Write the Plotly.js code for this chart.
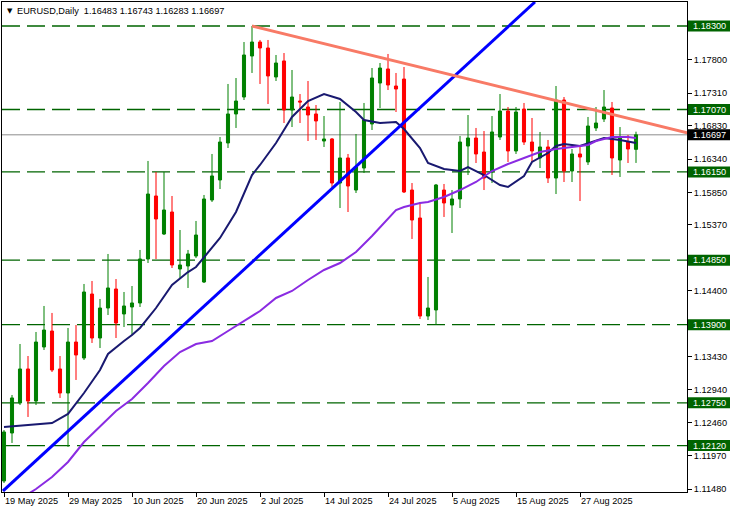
<!DOCTYPE html>
<html><head><meta charset="utf-8">
<script src="https://cdn.plot.ly/plotly-3.0.1.min.js"></script>
<style>html,body{margin:0;padding:0;background:#fff;overflow:hidden}#chart{width:733px;height:513px}</style>
</head><body><div id="chart"></div>
<script>
// ---- data ----
const dates = [
 '2025-05-19','2025-05-20','2025-05-21','2025-05-22','2025-05-23','2025-05-26','2025-05-27','2025-05-28','2025-05-29','2025-05-30',
 '2025-06-02','2025-06-03','2025-06-04','2025-06-05','2025-06-06','2025-06-09','2025-06-10','2025-06-11','2025-06-12','2025-06-13',
 '2025-06-16','2025-06-17','2025-06-18','2025-06-19','2025-06-20','2025-06-23','2025-06-24','2025-06-25','2025-06-26','2025-06-27',
 '2025-06-30','2025-07-01','2025-07-02','2025-07-03','2025-07-04','2025-07-07','2025-07-08','2025-07-09','2025-07-10','2025-07-11',
 '2025-07-14','2025-07-15','2025-07-16','2025-07-17','2025-07-18','2025-07-21','2025-07-22','2025-07-23','2025-07-24','2025-07-25',
 '2025-07-28','2025-07-29','2025-07-30','2025-07-31','2025-08-01','2025-08-04','2025-08-05','2025-08-06','2025-08-07','2025-08-08',
 '2025-08-11','2025-08-12','2025-08-13','2025-08-14','2025-08-15','2025-08-18','2025-08-19','2025-08-20','2025-08-21','2025-08-22',
 '2025-08-25','2025-08-26','2025-08-27','2025-08-28','2025-08-29','2025-09-01','2025-09-02','2025-09-03','2025-09-04','2025-09-05'
];
const open = [
 1.11598,1.12305,1.12747,1.13248,1.12776,1.13572,1.13807,1.13248,1.12894,1.13645,
 1.13410,1.14352,1.13704,1.14146,1.14426,1.14058,1.14161,1.14220,1.14868,1.15796,
 1.15236,1.15560,1.14721,1.14765,1.14912,1.14529,1.15737,1.16032,1.16577,1.17004,
 1.17254,1.17858,1.18064,1.17976,1.17549,1.17785,1.17063,1.17195,1.17107,1.17004,
 1.16606,1.16636,1.15987,1.16356,1.15884,1.16208,1.16857,1.17460,1.17667,1.17416,
 1.17519,1.15884,1.15472,1.14028,1.14117,1.15884,1.15663,1.15752,1.16532,1.16650,
 1.16444,1.16149,1.16665,1.17048,1.16459,1.17077,1.16591,1.16356,1.16518,1.16061,
 1.17210,1.16164,1.16415,1.16297,1.16798,1.16930,1.17092,1.16326,1.16591,1.16483
];
const high = [
 1.12349,1.12865,1.13616,1.13439,1.13793,1.14176,1.14073,1.13439,1.13852,1.13896,
 1.14500,1.14544,1.14279,1.14942,1.14573,1.14382,1.14470,1.15001,1.16312,1.16149,
 1.16149,1.15796,1.15295,1.15001,1.15428,1.15811,1.16415,1.16665,1.17446,1.17534,
 1.18064,1.18300,1.18094,1.18094,1.17873,1.17902,1.17652,1.17298,1.17490,1.17136,
 1.16974,1.16650,1.17181,1.16415,1.16709,1.17166,1.17681,1.17755,1.17888,1.17608,
 1.17696,1.15987,1.15708,1.14603,1.15973,1.15973,1.15884,1.16680,1.16989,1.16798,
 1.16753,1.16974,1.17298,1.17107,1.17107,1.17166,1.16945,1.16739,1.16621,1.17416,
 1.17254,1.16488,1.16518,1.16960,1.17107,1.17357,1.17181,1.16812,1.16694,1.16743
];
const low = [
 1.11568,1.12158,1.12717,1.12541,1.12717,1.13528,1.13203,1.12821,1.12099,1.13086,
 1.13380,1.13631,1.13557,1.14043,1.13704,1.13866,1.13748,1.14161,1.14809,1.14868,
 1.15221,1.14735,1.14588,1.14441,1.14883,1.14514,1.15708,1.15899,1.16503,1.16798,
 1.17210,1.17608,1.17446,1.17151,1.17490,1.16871,1.16812,1.16871,1.16606,1.16621,
 1.16518,1.15929,1.15619,1.15560,1.15840,1.16135,1.16768,1.17092,1.17357,1.17033,
 1.15840,1.15163,1.13984,1.13969,1.13896,1.15487,1.15251,1.15619,1.16105,1.16282,
 1.15884,1.15987,1.16621,1.16297,1.16415,1.16547,1.16297,1.16208,1.15987,1.15825,
 1.16002,1.16002,1.15722,1.16253,1.16753,1.16886,1.16105,1.16076,1.16282,1.16283
];
const close = [
 1.12320,1.12821,1.13248,1.12776,1.13645,1.13822,1.13233,1.12894,1.13645,1.13454,
 1.14382,1.13704,1.14146,1.14441,1.13925,1.14176,1.14220,1.14868,1.15825,1.15457,
 1.15590,1.14780,1.14780,1.14942,1.15221,1.15752,1.16091,1.16591,1.17004,1.17195,
 1.17873,1.18064,1.17976,1.17564,1.17755,1.17063,1.17254,1.17181,1.16989,1.16901,
 1.16636,1.15987,1.16356,1.15943,1.16223,1.16915,1.17534,1.17681,1.17431,1.17372,
 1.15855,1.15442,1.14028,1.14146,1.15958,1.15693,1.15752,1.16591,1.16650,1.16415,
 1.16061,1.16739,1.17048,1.16459,1.17033,1.16591,1.16459,1.16518,1.16061,1.17210,
 1.16164,1.16415,1.16370,1.16827,1.16871,1.17107,1.16356,1.16665,1.16488,1.16697
];
// moving-average lines (bar index, value)
const maFastIdx = [0,6,8,10,12,13,15,16,17,19,21,23,24,25,27,29,31,32,34,36,38,40,42,44,45,47,49,50,52,53,55,57,58,60,62,63,65,66,68,69,70,72,74,75,77,79];
const maFastVal = [1.12393,1.12452,1.12585,1.12894,1.13233,1.13469,1.13660,1.13748,1.13852,1.14146,1.14485,1.14676,1.14750,1.14897,1.15177,1.15560,1.16105,1.16253,1.16577,1.16960,1.17195,1.17298,1.17225,1.17033,1.16915,1.16871,1.16886,1.16783,1.16503,1.16282,1.16194,1.16164,1.16223,1.16105,1.15958,1.15929,1.16091,1.16297,1.16429,1.16532,1.16562,1.16532,1.16606,1.16650,1.16621,1.16577];
const maSlowIdx = [3,4,6,8,10,12,14,16,18,20,22,24,26,28,30,32,34,36,38,40,42,44,46,48,49,50,52,53,55,57,59,61,63,65,67,69,71,73,74,76,78,79];
const maSlowVal = [1.11406,1.11480,1.11657,1.11878,1.12172,1.12393,1.12629,1.12806,1.13041,1.13292,1.13498,1.13616,1.13660,1.13807,1.13955,1.14102,1.14294,1.14397,1.14559,1.14706,1.14809,1.14971,1.15207,1.15457,1.15590,1.15634,1.15693,1.15708,1.15781,1.15884,1.16002,1.16164,1.16267,1.16356,1.16444,1.16488,1.16518,1.16547,1.16606,1.16665,1.16665,1.16650];
// trend lines
const trendUpIdx = [-0.125, 66.375];
const trendUpVal = [1.11451, 1.18654];
const trendDownIdx = [31, 85.4];
const trendDownVal = [1.18300, 1.16727];
// horizontal levels
const levels = [1.18300, 1.17070, 1.16150, 1.14850, 1.13900, 1.12750, 1.12120];
const lastPrice = 1.16697;
const priceTicks = [1.17800,1.17310,1.16830,1.16340,1.15850,1.15370,1.14400,1.13430,1.12940,1.12460,1.11970,1.11480];
const labelDates = ['2025-05-19','2025-05-29','2025-06-10','2025-06-20','2025-07-02','2025-07-14','2025-07-24','2025-08-05','2025-08-15','2025-08-27'];
const labelText = ['19 May 2025','29 May 2025','10 Jun 2025','20 Jun 2025','2 Jul 2025','14 Jul 2025','24 Jul 2025','5 Aug 2025','15 Aug 2025','27 Aug 2025'];
const symbolTitle = 'EURUSD,Daily';
const lastOHLC = [1.16483, 1.16743, 1.16283, 1.16697];

// ---- drawing ----
const FONT = 'Liberation Sans, Arial, sans-serif';
const FS = 9.2;
const idx = dates.map((d, i) => i);

const traces = [
  {type:'candlestick', x: idx, open: open, high: high, low: low, close: close,
   increasing:{line:{color:'#008000', width:1}, fillcolor:'#008000'},
   decreasing:{line:{color:'#ff0000', width:1}, fillcolor:'#ff0000'},
   whiskerwidth:0, hoverinfo:'skip', showlegend:false},
  {type:'scatter', mode:'lines', x: maFastIdx, y: maFastVal, line:{color:'#191970', width:2}, hoverinfo:'skip', showlegend:false},
  {type:'scatter', mode:'lines', x: maSlowIdx, y: maSlowVal, line:{color:'#8a2be2', width:2}, hoverinfo:'skip', showlegend:false},
  {type:'scatter', mode:'lines', x: trendUpIdx, y: trendUpVal, line:{color:'#0000ff', width:3}, hoverinfo:'skip', showlegend:false},
  {type:'scatter', mode:'lines', x: trendDownIdx, y: trendDownVal, line:{color:'#f87a66', width:3}, hoverinfo:'skip', showlegend:false}
];

const shapes = levels.map(v => ({type:'line', xref:'paper', x0:0, x1:1, yref:'y', y0:v, y1:v,
  line:{color:'#006400', width:1.3, dash:'18px,7px'}, layer:'below'}));
shapes.push({type:'line', xref:'paper', x0:0, x1:1, yref:'y', y0:lastPrice, y1:lastPrice,
  line:{color:'#8c8c8c', width:1}, layer:'below'});

// price label boxes on the right scale
const boxShape = (v, bg) => ({type:'rect', xref:'paper', xsizemode:'pixel', xanchor:1, x0:1, x1:43,
  yref:'y', ysizemode:'pixel', yanchor:v, y0:-5.5, y1:5.5, fillcolor:bg, line:{width:0}, layer:'above'});
const boxText = v => ({xref:'paper', x:1, xanchor:'center', xshift:22, yref:'y', y:v, yanchor:'middle',
  text: v.toFixed(5), showarrow:false, font:{family:FONT, size:FS, color:'#ffffff'}, borderpad:0});
levels.forEach(v => shapes.push(boxShape(v, '#006400')));
shapes.push(boxShape(lastPrice, '#000000'));
const annotations = levels.map(v => boxText(v));
annotations.push(boxText(lastPrice));
annotations.push({xref:'paper', yref:'paper', x:0, y:1, xanchor:'left', yanchor:'middle', xshift:3, yshift:-9,
  text:'▼', showarrow:false, font:{family:'DejaVu Sans', size:7, color:'#000000'}});
annotations.push({xref:'paper', yref:'paper', x:0, y:1, xanchor:'left', yanchor:'middle', xshift:13, yshift:-9,
  text: symbolTitle + '&nbsp;&nbsp;' + lastOHLC.map(v => v.toFixed(5)).join(' '), showarrow:false,
  font:{family:FONT, size:FS, color:'#000000'}});

const layout = {
  width:733, height:513,
  margin:{l:2, r:46, t:2, b:21, pad:0},
  paper_bgcolor:'#ffffff', plot_bgcolor:'#ffffff',
  showlegend:false, hovermode:false, boxgap:0.45,
  xaxis:{type:'linear', range:[-0.25, 85.375], showgrid:false, zeroline:false,
    showline:true, linecolor:'#000000', linewidth:1, mirror:true,
    ticks:'outside', ticklen:4, tickcolor:'#000000', tickwidth:1,
    tickvals: labelDates.map(d => dates.indexOf(d)), ticktext: labelText,
    ticklabelposition:'outside right',
    tickfont:{family:FONT, size:FS, color:'#000000'},
    rangeslider:{visible:false}, fixedrange:true},
  yaxis:{side:'right', range:[1.114358, 1.186535], showgrid:false, zeroline:false,
    showline:true, linecolor:'#000000', linewidth:1, mirror:true,
    ticks:'outside', ticklen:4, tickcolor:'#000000', tickwidth:1,
    tickvals: priceTicks, ticktext: priceTicks.map(v => v.toFixed(5)),
    tickfont:{family:FONT, size:FS, color:'#000000'}, fixedrange:true},
  shapes: shapes,
  annotations: annotations
};

Plotly.newPlot('chart', traces, layout, {staticPlot:true, displayModeBar:false});
</script>
</body></html>
